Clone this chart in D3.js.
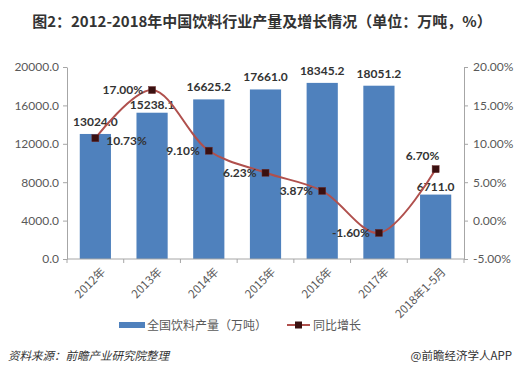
<!DOCTYPE html>
<html><head><meta charset="utf-8">
<script src="https://cdn.jsdelivr.net/npm/d3@7"></script>
<style>
body{margin:0;background:#fff;}
text{font-family:"Microsoft YaHei","Noto Sans CJK SC",sans-serif;}
</style></head>
<body><svg id="c" width="524" height="375"></svg>
<script>
const categories = ["2012年","2013年","2014年","2015年","2016年","2017年","2018年1-5月"];
const output = [13024.0,15238.1,16625.2,17661.0,18345.2,18051.2,6711.0];
const growth = [10.73,17.00,9.10,6.23,3.87,-1.60,6.70];
const leftTicks = [0,4000,8000,12000,16000,20000];
const rightTicks = [-5,0,5,10,15,20];
const growthLabelSide = ["right","left","left","left","left","left","top"];
const loweredBarLabels = [1,6];

const loc = d3.formatLocale({decimal:".",thousands:",",grouping:[3],currency:["",""],minus:"-"});
const f1 = loc.format(".1f"), f2 = loc.format(".2f");

const svg = d3.select("#c");
const m = {l:67, r:464, t:67, b:259};
const x = d3.scaleBand().domain(categories).range([m.l,m.r]).paddingInner(0.45).paddingOuter(0.225);
const yL = d3.scaleLinear().domain([0,20000]).range([m.b,m.t]);
const yR = d3.scaleLinear().domain([-5,20]).range([m.b,m.t]);
const axisCol = "#a6a6a6", tickTxt = "#595959";

svg.append("text").attr("x",262).attr("y",27).attr("text-anchor","middle")
  .attr("font-size",15).attr("font-weight","bold").attr("fill","#333")
  .text("图2：2012-2018年中国饮料行业产量及增长情况（单位：万吨，%）");

// left axis
const gL = svg.append("g").attr("transform",`translate(${m.l},0)`)
  .call(d3.axisLeft(yL).tickValues(leftTicks).tickFormat(d=>f1(d)).tickSize(4).tickSizeOuter(0));
gL.select(".domain").attr("stroke",axisCol);
gL.selectAll(".tick line").attr("stroke",axisCol);
gL.selectAll(".tick text").attr("fill",tickTxt).attr("font-size",12).attr("x",-8).style("font-family","Lato, 'Noto Sans', sans-serif");

// right axis
const gR = svg.append("g").attr("transform",`translate(${m.r},0)`)
  .call(d3.axisRight(yR).tickValues(rightTicks).tickFormat(d=>f2(d)+"%").tickSize(4).tickSizeOuter(0));
gR.select(".domain").attr("stroke",axisCol);
gR.selectAll(".tick line").attr("stroke",axisCol);
gR.selectAll(".tick text").attr("fill",tickTxt).attr("font-size",12).attr("x",9).style("font-family","Lato, 'Noto Sans', sans-serif");

// bars
svg.append("g").selectAll("rect").data(output).join("rect")
  .attr("x",(d,i)=>x(categories[i])).attr("width",x.bandwidth())
  .attr("y",d=>yL(d)).attr("height",d=>yL(0)-yL(d)).attr("fill","#4F81BD");

// x axis
const step = x.step();
const gX = svg.append("g").attr("transform",`translate(0,${m.b})`);
gX.append("line").attr("x1",m.l).attr("x2",m.r).attr("stroke",axisCol);
gX.selectAll("line.t").data(d3.range(categories.length+1)).join("line").attr("class","t")
  .attr("x1",i=>m.l+i*step).attr("x2",i=>m.l+i*step).attr("y1",0).attr("y2",4).attr("stroke",axisCol);
gX.selectAll("text").data(categories).join("text")
  .attr("transform",d=>`translate(${x(d)+x.bandwidth()/2+5},8) rotate(-45)`)
  .attr("text-anchor","end").attr("dy","0.7em").attr("font-size",11.5).attr("fill",tickTxt).text(d=>d);

// bar labels
svg.append("g").selectAll("text").data(output).join("text")
  .attr("x",(d,i)=>x(categories[i])+x.bandwidth()/2)
  .attr("y",(d,i)=>yL(d)-(loweredBarLabels.includes(i)?4:8))
  .attr("text-anchor","middle").attr("font-size",12).attr("font-weight","bold").attr("fill","#333")
  .style("font-family","Lato, 'Noto Sans', sans-serif")
  .text(d=>f1(d));

// line
const cx = (i)=>x(categories[i])+x.bandwidth()/2;
const line = d3.line().x((d,i)=>cx(i)).y(d=>yR(d)).curve(d3.curveCatmullRom.alpha(0.5));
svg.append("path").datum(growth).attr("d",line).attr("fill","none").attr("stroke","#B0504D").attr("stroke-width",2);
svg.append("g").selectAll("rect").data(growth).join("rect")
  .attr("x",(d,i)=>cx(i)-3.5).attr("y",d=>yR(d)-3.5).attr("width",7).attr("height",7)
  .attr("fill","#3a1010").attr("stroke","#6a2a2a").attr("stroke-width",0.5);

svg.append("g").selectAll("text").data(growth).join("text")
  .attr("x",(d,i)=>growthLabelSide[i]==="right"?cx(i)+11:growthLabelSide[i]==="left"?cx(i)-9:cx(i)-13)
  .attr("y",(d,i)=>growthLabelSide[i]==="top"?yR(d)-9:yR(d)+4+(growthLabelSide[i]==="right"?3:0))
  .attr("text-anchor",(d,i)=>growthLabelSide[i]==="right"?"start":growthLabelSide[i]==="left"?"end":"middle")
  .attr("font-size",12).attr("font-weight","bold").attr("fill","#333")
  .style("font-family","Lato, 'Noto Sans', sans-serif")
  .text(d=>f2(d)+"%");

// legend
const lg = svg.append("g");
lg.append("rect").attr("x",119).attr("y",322).attr("width",26).attr("height",6).attr("fill","#4F81BD");
lg.append("text").attr("x",147).attr("y",330).attr("font-size",12).attr("fill","#595959").text("全国饮料产量（万吨）");
lg.append("line").attr("x1",287).attr("x2",310).attr("y1",325).attr("y2",325).attr("stroke","#B0504D").attr("stroke-width",2);
lg.append("rect").attr("x",295).attr("y",321.5).attr("width",7).attr("height",7).attr("fill","#3a1010");
lg.append("text").attr("x",313).attr("y",330).attr("font-size",12).attr("fill","#595959").text("同比增长");

// footer
svg.append("text").attr("x",8).attr("y",360).attr("font-size",11.5).attr("font-style","italic").attr("fill","#333")
  .text("资料来源：前瞻产业研究院整理");
svg.append("text").attr("x",512).attr("y",360).attr("text-anchor","end").attr("font-size",11.5).attr("fill","#333")
  .text("@前瞻经济学人APP");
</script></body></html>
